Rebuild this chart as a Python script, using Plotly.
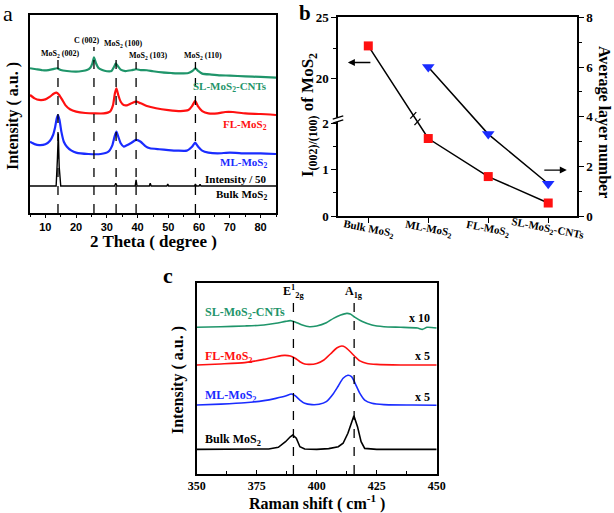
import plotly.graph_objects as go

W, H = 614, 513
SERIF = "Liberation Serif, Times New Roman, serif"
SANS = "Liberation Sans, Arial, sans-serif"
GREEN = "#1f956a"
RED = "#ff1010"
BLUE = "#1a2cff"

# ---------------- panel a : XRD ----------------
xrd_sl_x = [5, 7, 9, 11, 12.5, 13.8, 15, 17, 20, 22, 23.5, 24.6, 25.3, 25.8, 26.4, 27.2, 28.5, 30, 31.5, 32.3,
            32.9, 33.6, 34.5, 36, 38, 39.5, 41, 43, 45, 48, 51, 54, 56.5, 57.8, 58.8, 59.8, 61, 64, 67, 70, 75, 80, 85]
xrd_sl_y = [73.1, 72.6, 72.1, 72.2, 72.7, 73.1, 72.2, 71.7, 71.4, 71.7, 72.2, 73.4, 75.6, 78.6, 75.9, 73.4, 72.2, 71.6, 71.7, 73.7,
            75.6, 74.1, 72.4, 71.7, 72.1, 72.6, 72.2, 72.1, 71.6, 71.0, 70.7, 70.5, 70.7, 71.7, 73.1, 71.6, 70.4, 69.9, 69.5, 69.4, 69.0, 68.7, 68.4]

xrd_fl_x = [5, 6.5, 8, 10, 11.5, 12.8, 13.6, 14.5, 15.5, 16.5, 18, 20, 23, 26, 29, 31, 32, 32.6, 33.1, 33.7,
            34.5, 35.5, 36.5, 38, 39.5, 41, 43, 46, 50, 54, 56.5, 57.7, 58.7, 59.6, 61, 63, 66, 68.5, 71, 75, 80, 85]
xrd_fl_y = [59.6, 57.9, 57.1, 57.4, 58.8, 60.4, 60.8, 59.6, 57.1, 54.5, 52.4, 51.2, 50.5, 50.3, 50.3, 51.2, 54.5, 60.4, 63.0, 59.6,
            56.2, 54.5, 54.4, 55.4, 56.2, 55.4, 54.0, 52.9, 52.0, 51.5, 52.0, 54.0, 56.6, 54.0, 51.5, 50.3, 50.3, 51.0, 51.0, 50.3, 50.0, 49.5]

xrd_ml_x = [5, 6.5, 8, 10, 11.5, 12.5, 13.2, 13.7, 14.1, 14.6, 15.2, 16, 17, 18.5, 20, 24, 28, 30.5, 31.8, 32.5,
            33.1, 33.7, 34.5, 35.5, 36.5, 38, 39.5, 41, 42.5, 44, 47, 50, 53, 56, 57.7, 58.7, 59.7, 61, 63, 66, 70, 75, 80, 85]
xrd_ml_y = [36.0, 34.8, 34.3, 34.7, 36.5, 39.4, 43.6, 47.8, 49.5, 47.0, 41.1, 36.0, 33.5, 31.5, 30.5, 29.8, 29.8, 31.0, 34.3, 38.6,
            41.1, 38.6, 35.2, 33.5, 34.2, 35.5, 36.9, 36.0, 33.8, 32.7, 32.2, 31.8, 31.5, 31.5, 33.5, 35.5, 33.5, 31.5, 30.5, 30.1,
            30.5, 30.1, 30.1, 29.8]

xrd_bulk_x = [5, 13.5, 13.9, 14.2, 14.5, 15, 32.5, 32.9, 33.3, 39.2, 39.5, 39.8, 43.8, 44.1, 44.4, 49.5, 49.8, 50.1,
              58.5, 58.8, 59.1, 60, 60.3, 60.6, 85]
xrd_bulk_y = [13.6, 13.6, 26.8, 40.2, 23.2, 13.6, 13.6, 15.0, 13.6, 13.6, 16.7, 13.6, 13.6, 15.0, 13.6, 13.6, 14.6, 13.6,
              13.6, 14.6, 13.6, 13.6, 14.5, 13.6, 13.6]

a_peak_pos = [14.1, 25.8, 33.0, 39.5, 58.8]
a_peak_top = [78.3, 83.8, 81.3, 76.3, 76.3]
a_peak_labels = ["MoS<sub>2</sub> (002)", "C (002)", "MoS<sub>2</sub> (100)", "MoS<sub>2</sub> (103)", "MoS<sub>2</sub> (110)"]
a_peak_label_x = [14.6, 23.5, 35.4, 43.4, 61.3]
a_peak_label_y = [80.3, 86.9, 85.4, 79.3, 79.3]
a_series_labels = ["SL-MoS<sub>2</sub>-CNTs", "FL-MoS<sub>2</sub>", "ML-MoS<sub>2</sub>", "Intensity / 50", "Bulk MoS<sub>2</sub>"]
a_series_label_y = [63.6, 44.4, 25.3, 17.2, 9.1]
a_series_colors = [GREEN, RED, BLUE, "black", "black"]
a_xticks = [10, 20, 30, 40, 50, 60, 70, 80]

# ---------------- panel b ----------------
b_categories = ["Bulk MoS<sub>2</sub>", "ML-MoS<sub>2</sub>", "FL-MoS<sub>2</sub>", "SL-MoS<sub>2</sub>-CNTs"]
b_ratio = [22.7, 1.67, 0.85, 0.28]
b_layer_categories = b_categories[1:]
b_layers = [6.0, 3.3, 1.3]
b_left_ticks = [0, 1, 2, 20, 25]
b_left_minor = [0.5, 1.5, 22.5]
b_right_ticks = [0, 2, 4, 6, 8]

# ---------------- panel c : Raman ----------------
ram_bulk_x = [350, 365, 380, 384, 387, 389, 390, 391.5, 393, 395, 400, 405, 409, 411, 413, 415.5, 417, 418.5, 420, 425, 435, 450]
ram_bulk_y = [12.9, 12.9, 13.1, 14.0, 16.9, 19.5, 20.4, 18.7, 14.3, 13.1, 12.9, 13.3, 14.3, 16.1, 21.3, 30.5, 24.8, 16.9, 13.4, 12.9, 12.9, 12.9]
ram_ml_x = [350, 360, 370, 378, 383, 387, 389.5, 391, 393, 395, 398, 401, 404, 407, 409, 411, 413, 414.5, 416, 418, 420, 423, 428, 440, 450]
ram_ml_y = [36.1, 36.6, 37.3, 38.4, 39.6, 40.8, 41.9, 41.0, 38.7, 37.0, 36.3, 36.5, 37.9, 42.2, 46.1, 50.1, 51.7, 51.0, 47.5, 42.2, 38.7, 37.0, 36.3, 36.1, 36.0]
ram_fl_x = [350, 360, 370, 378, 383, 386.5, 389, 391, 393, 395, 397, 400, 403, 406, 408.5, 410.5, 412, 414, 416, 418, 421, 425, 435, 450]
ram_fl_y = [57.1, 57.6, 58.3, 60.0, 61.4, 62.1, 61.8, 60.6, 58.8, 57.6, 57.4, 57.9, 59.7, 63.2, 66.1, 67.0, 66.3, 64.0, 61.4, 59.2, 57.9, 57.4, 57.1, 57.1]
ram_sl_x = [350, 360, 370, 378, 383, 387, 389, 391, 394, 397, 400, 404, 407, 410, 412.5, 414, 416, 419, 423, 428, 435, 442, 444, 446, 450]
ram_sl_y = [76.8, 77.1, 77.5, 78.0, 78.9, 79.9, 80.3, 79.6, 78.0, 77.1, 77.5, 79.2, 81.5, 83.2, 84.1, 83.8, 82.0, 79.8, 78.0, 77.1, 76.8, 76.4, 75.7, 76.8, 76.4]

c_peak_pos = [390.3, 415.6]
c_peak_top = 92.1
c_peak_labels = ["E<sup>1</sup><sub>2g</sub>", "A<sub>1g</sub>"]
c_series_labels = ["SL-MoS<sub>2</sub>-CNTs", "FL-MoS<sub>2</sub>", "ML-MoS<sub>2</sub>", "Bulk MoS<sub>2</sub>"]
c_series_label_y = [84.3, 61.3, 40.8, 17.8]
c_series_colors = [GREEN, RED, BLUE, "black"]
c_scale_labels = ["x 10", "x 5", "x 5"]
c_scale_label_y = [81.7, 61.8, 40.5]
c_xticks = [350, 375, 400, 425, 450]


def px(x):
    return x / W


def py(y):
    return 1 - y / H


# axis break helper for panel b
def disp(v):
    return v if v <= 2.1 else 2.955 + (v - 20) * 0.2636


fig = go.Figure()

# panel a traces
fig.add_trace(go.Scatter(x=xrd_bulk_x, y=xrd_bulk_y, mode="lines", line=dict(color="black", width=1.4), xaxis="x", yaxis="y"))
for xs, ys, col in [(xrd_ml_x, xrd_ml_y, BLUE), (xrd_fl_x, xrd_fl_y, RED), (xrd_sl_x, xrd_sl_y, GREEN)]:
    fig.add_trace(go.Scatter(x=xs, y=ys, mode="lines", line=dict(color=col, width=2.2, shape="spline", smoothing=0.5),
                             xaxis="x", yaxis="y"))

# panel b traces
fig.add_trace(go.Scatter(x=b_categories, y=[disp(v) for v in b_ratio], mode="lines+markers",
                         line=dict(color="black", width=1.5),
                         marker=dict(symbol="square", size=9, color=RED), xaxis="x2", yaxis="y2"))
fig.add_trace(go.Scatter(x=b_layer_categories, y=b_layers, mode="lines+markers",
                         line=dict(color="black", width=1.5),
                         marker=dict(symbol="triangle-down", size=11, color=BLUE), xaxis="x2", yaxis="y3"))

# panel c traces
fig.add_trace(go.Scatter(x=ram_bulk_x, y=ram_bulk_y, mode="lines", line=dict(color="black", width=1.6), xaxis="x3", yaxis="y4"))
for xs, ys, col in [(ram_ml_x, ram_ml_y, BLUE), (ram_fl_x, ram_fl_y, RED), (ram_sl_x, ram_sl_y, GREEN)]:
    fig.add_trace(go.Scatter(x=xs, y=ys, mode="lines", line=dict(color=col, width=1.6, shape="spline", smoothing=0.6),
                             xaxis="x3", yaxis="y4"))

shapes = []
annotations = []

# panel a dashed lines + labels
for p, top in zip(a_peak_pos, a_peak_top):
    shapes.append(dict(type="line", xref="x", yref="y", x0=p, x1=p, y0=0, y1=top,
                       line=dict(color="black", width=1.3, dash="dash")))
for lab, lx, ly in zip(a_peak_labels, a_peak_label_x, a_peak_label_y):
    annotations.append(dict(text=lab, x=lx, y=ly, xref="x", yref="y", showarrow=False,
                            xanchor="center", yanchor="middle", font=dict(family=SERIF, size=8, color="black", weight="bold")))
for lab, ly, col in zip(a_series_labels, a_series_label_y, a_series_colors):
    annotations.append(dict(text=lab, x=82.7, y=ly, xref="x", yref="y", showarrow=False,
                            xanchor="right", yanchor="middle", font=dict(family=SERIF, size=11, color=col, weight="bold")))

# panel c dashed lines + labels
for p, lab in zip(c_peak_pos, c_peak_labels):
    shapes.append(dict(type="line", xref="x3", yref="y4", x0=p, x1=p, y0=0, y1=c_peak_top,
                       line=dict(color="black", width=1.3, dash="dash")))
    annotations.append(dict(text=lab, x=p, y=95.5, xref="x3", yref="y4", showarrow=False,
                            xanchor="center", yanchor="middle", font=dict(family=SERIF, size=12, color="black", weight="bold")))
for lab, ly, col in zip(c_series_labels, c_series_label_y, c_series_colors):
    annotations.append(dict(text=lab, x=352.6, y=ly, xref="x3", yref="y4", showarrow=False,
                            xanchor="left", yanchor="middle", font=dict(family=SERIF, size=12, color=col, weight="bold")))
for lab, ly in zip(c_scale_labels, c_scale_label_y):
    annotations.append(dict(text=lab, x=447.9, y=ly, xref="x3", yref="y4", showarrow=False,
                            xanchor="right", yanchor="middle", font=dict(family=SERIF, size=12, color="black", weight="bold")))

# panel b: axis break on left axis
shapes.append(dict(type="rect", xref="x2 domain", yref="y2", x0=-0.02, x1=0.02, y0=2.03, y1=2.12,
                   fillcolor="white", line=dict(width=0), layer="above"))
for yb in [2.0, 2.09]:
    shapes.append(dict(type="line", xref="x2 domain", yref="y2", x0=-0.022, x1=0.022, y0=yb, y1=yb + 0.07,
                       line=dict(color="black", width=1.3), layer="above"))
# break marks on connecting line
d0, d1 = disp(b_ratio[0]), disp(b_ratio[1])
frac = (d0 - 2.1) / (d0 - d1)
for off in [-0.035, 0.035]:
    bx = frac + off
    by = d0 + (d1 - d0) * (bx)
    shapes.append(dict(type="line", xref="x2", yref="y2", x0=bx - 0.05, x1=bx + 0.05, y0=by - 0.07, y1=by + 0.07,
                       line=dict(color="black", width=1.3), layer="above"))

# panel b arrows
annotations.append(dict(x=-0.34, y=3.31, ax=0.06, ay=3.31, xref="x2", yref="y2", axref="x2", ayref="y2",
                        showarrow=True, arrowhead=2, arrowsize=1, arrowwidth=1.4, arrowcolor="black", text=""))
annotations.append(dict(x=3.31, y=0.99, ax=2.91, ay=0.99, xref="x2", yref="y2", axref="x2", ayref="y2",
                        showarrow=True, arrowhead=2, arrowsize=1, arrowwidth=1.4, arrowcolor="black", text=""))

# panel b category tick labels (slanted)
for i, cat in enumerate(b_categories):
    annotations.append(dict(text=cat, x=i, y=py(229), xref="x2", yref="paper", showarrow=False, textangle=11,
                            xanchor="center", yanchor="middle", font=dict(family=SERIF, size=11, color="black", weight="bold")))

# axis titles and panel letters
def title(text, x, y, size, angle=0, family=SERIF, weight="bold"):
    annotations.append(dict(text=text, x=px(x), y=py(y), xref="paper", yref="paper", showarrow=False,
                            textangle=angle, xanchor="center", yanchor="middle",
                            font=dict(family=family, size=size, color="black", weight=weight)))

title("Intensity ( a.u. )", 13, 116, 16, -90)
title("2 Theta ( degree )", 153, 241, 17)
title("I<sub>(002)/(100)</sub> of MoS<sub>2</sub>", 309, 115, 17, -90)
title("Average layer number", 604, 122, 16, 90)
title("Intensity ( a.u. )", 178, 380, 16, -90)
title("Raman shift ( cm<sup>-1</sup> )", 317, 502, 16)
title("a", 8, 13, 22, 0, SERIF, "normal")
title("b", 305, 13, 21, 0, SERIF, "bold")
title("c", 168, 275, 22, 0, SERIF, "bold")

axis_common = dict(showline=True, linecolor="black", linewidth=1.5, mirror=True, showgrid=False, zeroline=False)

fig.update_layout(
    width=W, height=H, margin=dict(l=0, r=0, t=0, b=0, autoexpand=False),
    paper_bgcolor="white", plot_bgcolor="white", showlegend=False,
    xaxis=dict(domain=[px(30), px(276)], range=[5, 85], anchor="y", tickvals=a_xticks, ticks="outside", ticklen=3,
               tickwidth=1.3, tickcolor="black", automargin=False, ticklabelstandoff=0,
               minor=dict(dtick=5, tick0=5, ticks="outside", ticklen=2, tickcolor="black"),
               tickfont=dict(family=SANS, size=11, color="black", weight="bold"), **axis_common),
    yaxis=dict(domain=[py(213), py(15)], range=[0, 100], anchor="x", showticklabels=False, ticks="",
               automargin=False, **axis_common),
    xaxis2=dict(domain=[px(338), px(577)], type="category", range=[-0.505, 3.48], anchor="y2",
                categoryorder="array", categoryarray=b_categories, automargin=False,
                showticklabels=False, ticks="outside", ticklen=5, tickwidth=1.3, tickcolor="black", **axis_common),
    yaxis2=dict(domain=[py(216), py(17)], range=[0, 4.29], anchor="x2", automargin=False,
                tickvals=[disp(v) for v in b_left_ticks], ticktext=[str(v) for v in b_left_ticks],
                ticklabeloverflow="allow",
                ticks="outside", ticklen=5, tickwidth=1.3, tickcolor="black",
                minor=dict(tickvals=[disp(v) for v in b_left_minor], ticks="outside", ticklen=3, tickcolor="black"),
                tickfont=dict(family=SERIF, size=13, color="black", weight="bold"), **axis_common),
    yaxis3=dict(overlaying="y2", side="right", range=[0, 8.02], anchor="x2", tickvals=b_right_ticks, automargin=False,
                ticks="outside", ticklen=5, tickwidth=1.3, tickcolor="black", ticklabeloverflow="allow",
                minor=dict(dtick=1, ticks="outside", ticklen=3, tickcolor="black"),
                tickfont=dict(family=SERIF, size=13, color="black", weight="bold"),
                showline=True, linecolor="black", linewidth=1.5, showgrid=False, zeroline=False),
    xaxis3=dict(domain=[px(196.7), px(436.7)], range=[350, 450], anchor="y4", tickvals=c_xticks, automargin=False,
                ticks="inside", ticklen=4, tickwidth=1.3, tickcolor="black", ticklabelstandoff=0,
                minor=dict(dtick=12.5, tick0=350, ticks="inside", ticklen=3, tickcolor="black"),
                tickfont=dict(family=SERIF, size=12, color="black", weight="bold"), **axis_common),
    yaxis4=dict(domain=[py(474), py(283)], range=[0, 100], anchor="x3", showticklabels=False, ticks="",
                automargin=False, **axis_common),
    shapes=shapes, annotations=annotations,
)

fig.write_html("out.html", config={"displayModeBar": False},
               post_script="document.body.style.margin='0px';document.body.style.overflow='hidden';")
